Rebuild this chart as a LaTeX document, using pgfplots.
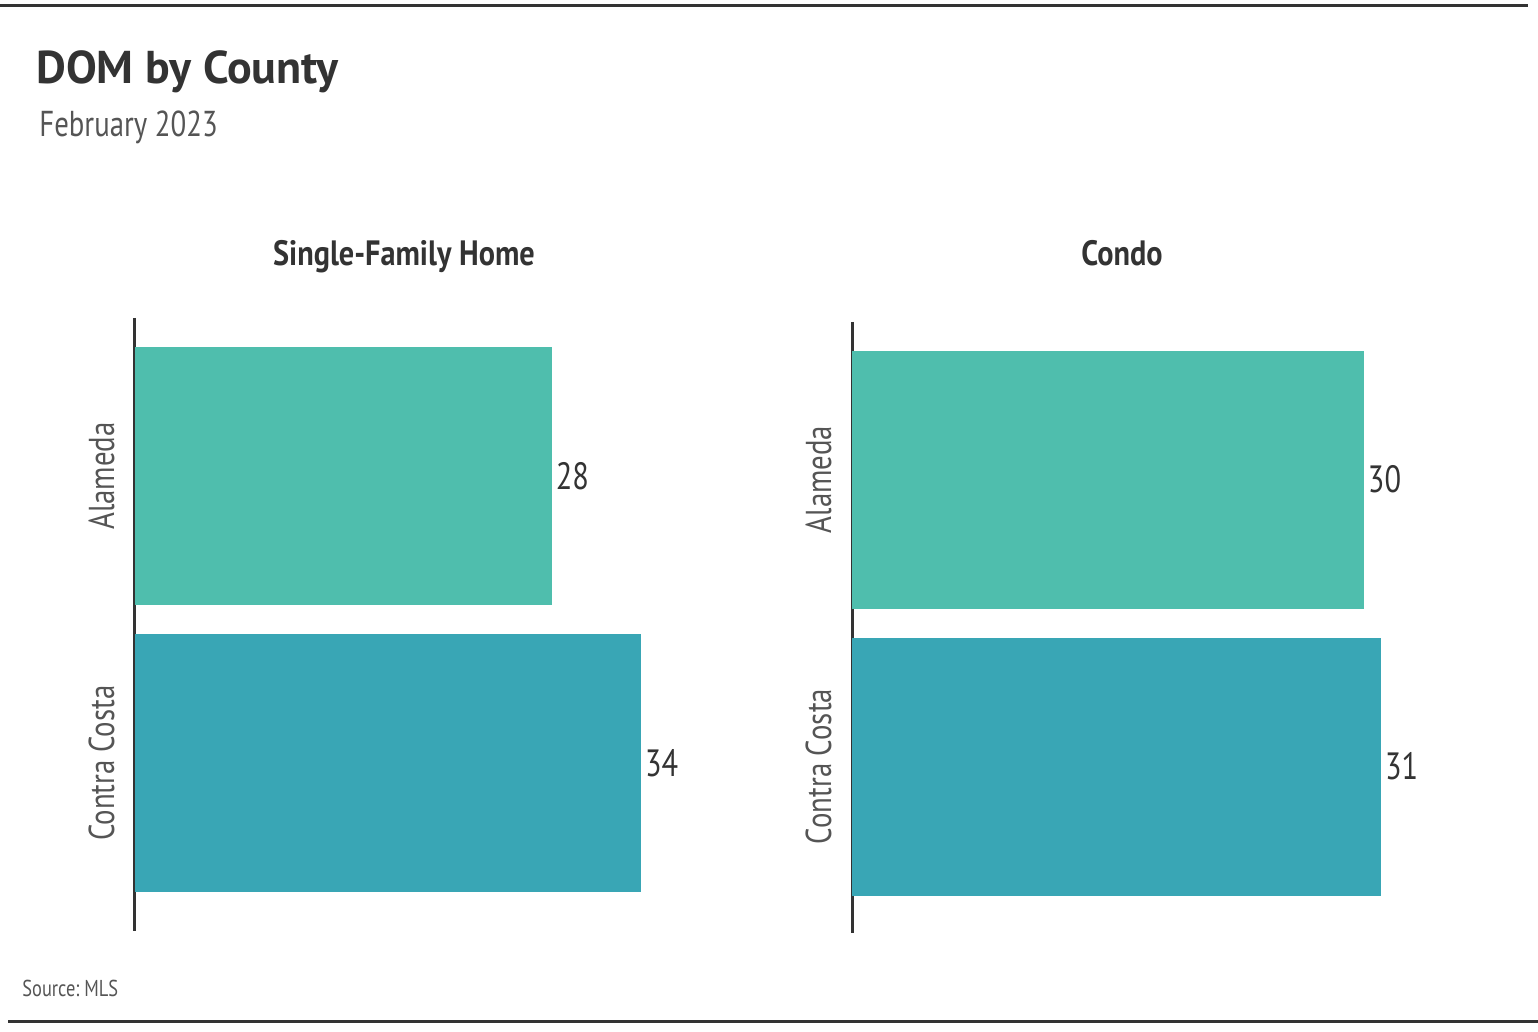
\documentclass[border=0pt]{standalone}
\usepackage{fontspec}
\usepackage{pgfplots}
\pgfplotsset{compat=1.18}
\setmainfont{PT Sans}
\newfontfamily\narrow[FakeStretch=0.8]{PT Sans}
\newfontfamily\semi[FakeStretch=0.86]{PT Sans}
\definecolor{alameda}{RGB}{79,190,173}
\definecolor{contra}{RGB}{57,166,181}
\definecolor{ink}{RGB}{51,51,51}
\definecolor{subink}{RGB}{85,85,85}

\pgfplotsset{
  panel/.style={
    scale only axis,
    xbar, bar width=129pt,
    y dir=reverse,
    xmin=0, enlargelimits=false,
    axis x line=none,
    axis y line*=left,
    y axis line style={ink, line width=1.5pt, -},
    ytick={0,1},
    yticklabels={Alameda, Contra Costa},
    major tick length=0pt,
    yticklabel style={rotate=90, anchor=south, font=\narrow\fontsize{18}{21}\selectfont, text=subink, inner sep=0pt, yshift=10pt},
    /pgf/number format/assume math mode=true,
    nodes near coords,
    every node near coord/.append style={anchor=west, font=\narrow\fontsize{19}{22}\selectfont, text=ink, inner sep=2pt},
  }
}

\begin{document}
\begin{tikzpicture}[x=0.5pt,y=0.5pt]
\useasboundingbox (0,0) rectangle (1538,1032);
\draw[ink, line width=1.5pt] (0,1026) -- (1528,1026);
\draw[ink, line width=1.5pt] (8,10) -- (1538,10);

\node[anchor=base west, inner sep=0pt, text=ink] at (36,948) {\fontsize{23}{27}\selectfont\bfseries DOM by County};
\node[anchor=base west, inner sep=0pt, text=subink] at (39,895) {\narrow\fontsize{18}{22}\selectfont February 2023};
\node[anchor=base, inner sep=0pt, text=ink] at (404,766) {\semi\fontsize{17.6}{21}\selectfont\bfseries Single-Family Home};
\node[anchor=base, inner sep=0pt, text=ink] at (1122,766) {\semi\fontsize{17.6}{21}\selectfont\bfseries Condo};
\node[anchor=base west, inner sep=0pt, text=subink] at (22,35) {\narrow\fontsize{11.5}{13}\selectfont Source:\ MLS};

% Single-Family Home
\begin{axis}[panel, at={(67.5pt,50.5pt)}, anchor=south west,
  width=297.5pt, height=306.5pt, xmax=40, ymin=-0.5505, ymax=1.585]
  \addplot[fill=alameda, draw=none, bar shift=0pt] coordinates {(28,0)};
  \addplot[fill=contra, draw=none, bar shift=0pt] coordinates {(34,1)};
\end{axis}

% Condo
\begin{axis}[panel, at={(426pt,49.5pt)}, anchor=south west,
  width=298.4pt, height=305.5pt, xmax=35, ymin=-0.549, ymax=1.580]
  \addplot[fill=alameda, draw=none, bar shift=0pt] coordinates {(30,0)};
  \addplot[fill=contra, draw=none, bar shift=0pt] coordinates {(31,1)};
\end{axis}
\end{tikzpicture}
\end{document}
